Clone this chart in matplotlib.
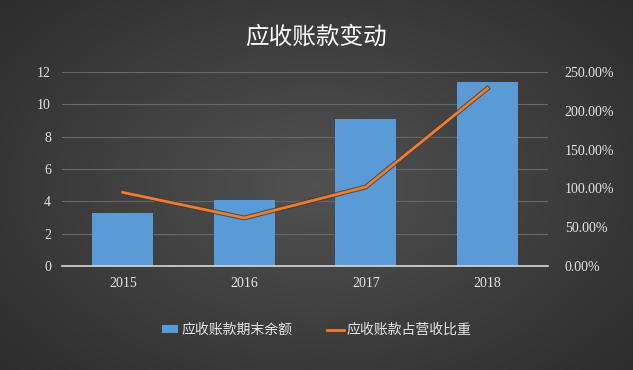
import numpy as np
import matplotlib.pyplot as plt
import matplotlib.patheffects as pe
from matplotlib.ticker import FuncFormatter

plt.rcParams['font.family'] = ['Noto Sans CJK SC', 'DejaVu Sans']

years = ['2015', '2016', '2017', '2018']
balance = [3.3, 4.1, 9.1, 11.4]          # 应收账款期末余额
ratio = [95.0, 62.0, 102.0, 229.0]       # 应收账款占营收比重 (%)

fig = plt.figure(figsize=(6.33, 3.7), dpi=100)

# radial gradient background
bg = fig.add_axes([0, 0, 1, 1])
yy, xx = np.mgrid[-1:1:370j, -1:1:633j]
r = np.sqrt(xx**2 + (yy * 0.9)**2)
shade = 0.32 - 0.15 * np.clip(r, 0, 1.4) / 1.4
bg.imshow(np.dstack([shade] * 3), aspect='auto', extent=[0, 1, 0, 1])
bg.axis('off')

ax = fig.add_axes([0.098, 0.281, 0.768, 0.524])
ax.patch.set_alpha(0)
x = np.arange(len(years))
ax.bar(x, balance, width=0.5, color='#5B9BD5', zorder=2, label='应收账款期末余额')
ax.set_xlim(-0.5, 3.5)
ax.set_ylim(0, 12)
ax.set_yticks(range(0, 13, 2))
ax.grid(axis='y', color='#686868', lw=0.8, zorder=0)
for s in ['top', 'right', 'left']:
    ax.spines[s].set_visible(False)
ax.spines['bottom'].set_color('#d8d8d8')
ax.spines['bottom'].set_linewidth(1.2)
ax.tick_params(length=0, colors='#e6e6e6', labelsize=10, pad=8)
ax.set_xticks(x)
ax.set_xticklabels(years, family='Liberation Serif')
for t in ax.get_yticklabels():
    t.set_family('Liberation Serif')

ax2 = ax.twinx()
ax2.set_ylim(0, 250)
ax2.set_yticks(range(0, 251, 50))
ax2.yaxis.set_major_formatter(FuncFormatter(lambda v, p: f'{v:.2f}%'))
for s in ax2.spines.values():
    s.set_visible(False)
ax2.tick_params(length=0, colors='#e6e6e6', labelsize=10, pad=12)
for t in ax2.get_yticklabels():
    t.set_family('Liberation Serif')
ax2.plot(x, ratio, color='#ED7D31', lw=2, zorder=3, label='应收账款占营收比重',
         path_effects=[pe.Stroke(linewidth=3.5, foreground='#4a3a30', alpha=0.8), pe.Normal()])

fig.text(0.5, 0.9, '应收账款变动', ha='center', va='center', color='white', fontsize=17)

h1, l1 = ax.get_legend_handles_labels()
h2, l2 = ax2.get_legend_handles_labels()
fig.legend(h1 + h2, l1 + l2, loc='center', bbox_to_anchor=(0.5, 0.108), ncol=2,
           frameon=False, fontsize=10, labelcolor='#e6e6e6', handlelength=1.2,
           handleheight=0.5, handletextpad=0.2, columnspacing=2.5)

fig.savefig('out.png', dpi=100)
